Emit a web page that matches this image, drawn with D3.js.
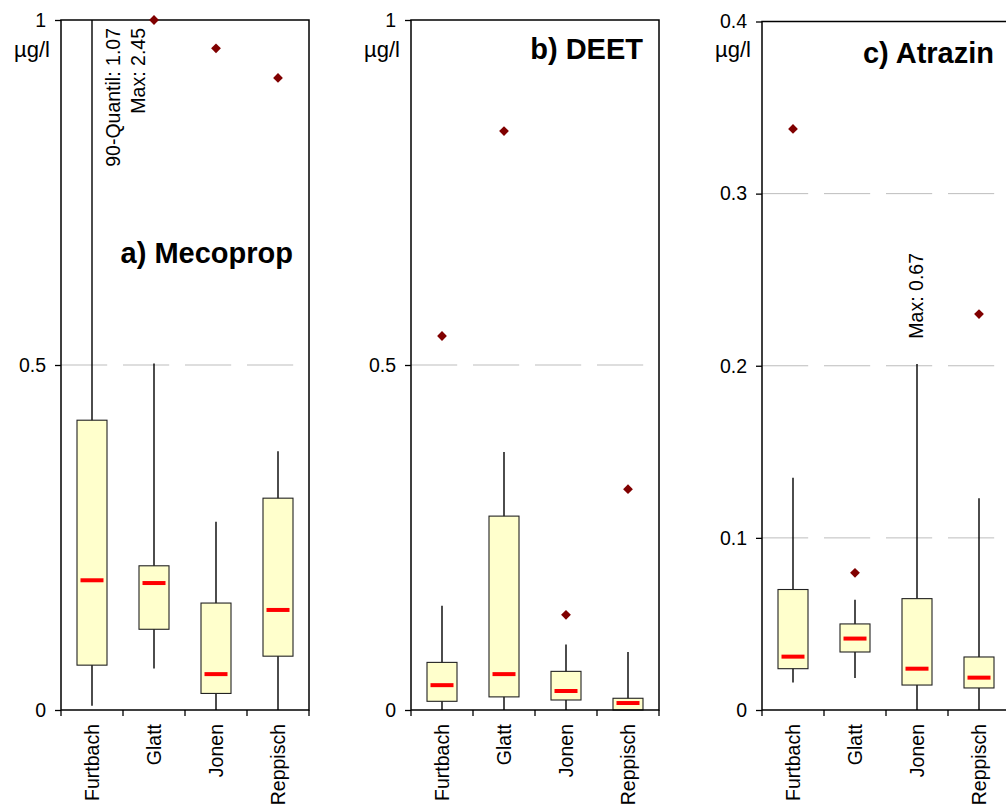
<!DOCTYPE html>
<html>
<head>
<meta charset="utf-8">
<script src="https://cdn.jsdelivr.net/npm/d3@7"></script>
<style>
  body { margin: 0; background: #fff; }
  svg { display: block; }
  text { font-family: "Liberation Sans", Arial, Helvetica, sans-serif; fill: #000; }
</style>
</head>
<body>
<svg id="chart" width="1006" height="804"></svg>
<script>
// Sampling sites (same for all three substances)
const sites = ["Furtbach", "Glatt", "Jonen", "Reppisch"];

// a) Mecoprop, µg/l
const mecopropLow     = [0.006, 0.060, 0.000, 0.000];
const mecopropQ1      = [0.065, 0.117, 0.024, 0.078];
const mecopropMedian  = [0.188, 0.184, 0.052, 0.145];
const mecopropQ3      = [0.420, 0.209, 0.155, 0.307];
const mecopropHigh    = [1.07, 0.502, 0.273, 0.375];
const mecopropOutlier = [2.45, 1.00, 0.959, 0.916];

// b) DEET, µg/l
const deetLow     = [0.000, 0.000, 0.000, 0.000];
const deetQ1      = [0.0126, 0.019, 0.0145, 0.000];
const deetMedian  = [0.036, 0.052, 0.0275, 0.0101];
const deetQ3      = [0.069, 0.281, 0.056, 0.017];
const deetHigh    = [0.151, 0.374, 0.095, 0.084];
const deetOutlier = [0.542, 0.839, 0.138, 0.320];

// c) Atrazin, µg/l
const atrazinLow     = [0.016, 0.0186, 0.000, 0.000];
const atrazinQ1      = [0.024, 0.0337, 0.0145, 0.0128];
const atrazinMedian  = [0.031, 0.0415, 0.024, 0.0188];
const atrazinQ3      = [0.070, 0.050, 0.0647, 0.0308];
const atrazinHigh    = [0.135, 0.064, 0.201, 0.123];
const atrazinOutlier = [0.3376, 0.0797, 0.67, 0.230];

// Axis ticks per panel
const mecopropTicks = [0, 0.5, 1];
const deetTicks     = [0, 0.5, 1];
const atrazinTicks  = [0, 0.1, 0.2, 0.3, 0.4];
const unitLabel = "µg/l";

const panels = [
  { title: "a) Mecoprop", low: mecopropLow, q1: mecopropQ1, med: mecopropMedian, q3: mecopropQ3,
    high: mecopropHigh, out: mecopropOutlier, yMax: 1, ticks: mecopropTicks,
    notes: [{ site: "Furtbach", text: "90-Quantil: 1.07", dx: 28, y: 28 },
            { site: "Furtbach", text: "Max: 2.45", dx: 53, y: 28 }] },
  { title: "b) DEET", low: deetLow, q1: deetQ1, med: deetMedian, q3: deetQ3,
    high: deetHigh, out: deetOutlier, yMax: 1, ticks: deetTicks, notes: [] },
  { title: "c) Atrazin", low: atrazinLow, q1: atrazinQ1, med: atrazinMedian, q3: atrazinQ3,
    high: atrazinHigh, out: atrazinOutlier, yMax: 0.4, ticks: atrazinTicks,
    notes: [{ site: "Jonen", text: "Max: 0.67", dx: 6, y: 253 }] }
];

// Panel frames and title positions
const frames = [
  { left: 61,  top: 20,   titleY: 263 },
  { left: 411, top: 20,   titleY: 59 },
  { left: 762, top: 21.5, titleY: 63 }
];
const panelW = 248, bottom = 710;
const boxW = 30, medW = 23;

const svg = d3.select("#chart");

panels.forEach((p, i) => {
  const f = frames[i];
  const g = svg.append("g");
  const x = d3.scaleBand().domain(sites).range([f.left, f.left + panelW]);
  const y = d3.scaleLinear().domain([0, p.yMax]).range([bottom, f.top]);
  const cx = s => x(s) + x.bandwidth() / 2;
  const clip = v => Math.min(v, p.yMax);
  const bw = x.bandwidth();

  // dashed horizontal gridlines
  g.selectAll("line.grid")
    .data(p.ticks.filter(t => t > 0 && t < p.yMax))
    .join("line")
    .attr("x1", f.left).attr("x2", f.left + panelW)
    .attr("y1", d => y(d)).attr("y2", d => y(d))
    .attr("stroke", "#bdbdbd").attr("stroke-width", 1)
    .attr("stroke-dasharray", `${bw * 0.745} ${bw * 0.255}`);

  // whiskers
  g.selectAll("line.whisker")
    .data(sites)
    .join("line")
    .attr("x1", d => cx(d)).attr("x2", d => cx(d))
    .attr("y1", (d, k) => y(p.low[k]))
    .attr("y2", (d, k) => y(clip(p.high[k])))
    .attr("stroke", "#000").attr("stroke-width", 1.4);

  // interquartile boxes
  g.selectAll("rect.box")
    .data(sites)
    .join("rect")
    .attr("x", d => cx(d) - boxW / 2)
    .attr("width", boxW)
    .attr("y", (d, k) => y(p.q3[k]))
    .attr("height", (d, k) => y(p.q1[k]) - y(p.q3[k]))
    .attr("fill", "#ffffcc").attr("stroke", "#222").attr("stroke-width", 1.1);

  // medians
  g.selectAll("line.median")
    .data(sites)
    .join("line")
    .attr("x1", d => cx(d) - medW / 2).attr("x2", d => cx(d) + medW / 2)
    .attr("y1", (d, k) => y(p.med[k])).attr("y2", (d, k) => y(p.med[k]))
    .attr("stroke", "#ff0000").attr("stroke-width", 4);

  // frame
  g.append("rect")
    .attr("x", f.left).attr("y", f.top)
    .attr("width", panelW).attr("height", bottom - f.top)
    .attr("fill", "none").attr("stroke", "#000").attr("stroke-width", 1.5);

  // left axis
  const yAxis = d3.axisLeft(y).tickValues(p.ticks).tickSize(6).tickPadding(9)
    .tickFormat(d3.format("~g"));
  const ya = g.append("g").attr("transform", `translate(${f.left},0)`).call(yAxis);
  ya.select(".domain").remove();
  ya.selectAll(".tick line").attr("stroke", "#000").attr("stroke-width", 1.3);
  ya.selectAll(".tick text").attr("font-size", 19.5)
    .attr("font-family", '"Liberation Sans", Arial, sans-serif').attr("fill", "#000");

  // category boundary ticks
  const bounds = sites.map(s => x(s)).concat([f.left + panelW]);
  g.selectAll("line.cat")
    .data(bounds)
    .join("line")
    .attr("x1", d => d).attr("x2", d => d)
    .attr("y1", bottom).attr("y2", bottom + 6)
    .attr("stroke", "#000").attr("stroke-width", 1.3);

  // category labels
  g.selectAll("text.cat")
    .data(sites)
    .join("text")
    .attr("transform", d => `translate(${cx(d)},${bottom + 14}) rotate(-90)`)
    .attr("text-anchor", "end").attr("dy", "0.35em")
    .attr("font-size", 19.5)
    .text(d => d);

  // outliers (only those inside the axis range)
  g.selectAll("path.out")
    .data(sites.map((s, k) => ({ s, v: p.out[k] })).filter(d => d.v != null && d.v <= p.yMax))
    .join("path")
    .attr("d", d3.symbol(d3.symbolSquare, 48))
    .attr("transform", d => `translate(${cx(d.s)},${y(d.v)}) rotate(45)`)
    .attr("fill", "#800000");

  // unit label
  g.append("text")
    .attr("x", f.left - 11).attr("y", 57)
    .attr("text-anchor", "end").attr("font-size", 22)
    .text(unitLabel);

  // panel title
  g.append("text")
    .attr("x", f.left + panelW - 16).attr("y", f.titleY)
    .attr("text-anchor", "end").attr("font-size", 29).attr("font-weight", "bold")
    .text(p.title);

  // rotated annotations for values beyond the axis
  g.selectAll("text.note")
    .data(p.notes)
    .join("text")
    .attr("transform", d => `translate(${cx(d.site) + d.dx},${d.y}) rotate(-90)`)
    .attr("text-anchor", "end").attr("font-size", 19.5)
    .text(d => d.text);
});
</script>
</body>
</html>
